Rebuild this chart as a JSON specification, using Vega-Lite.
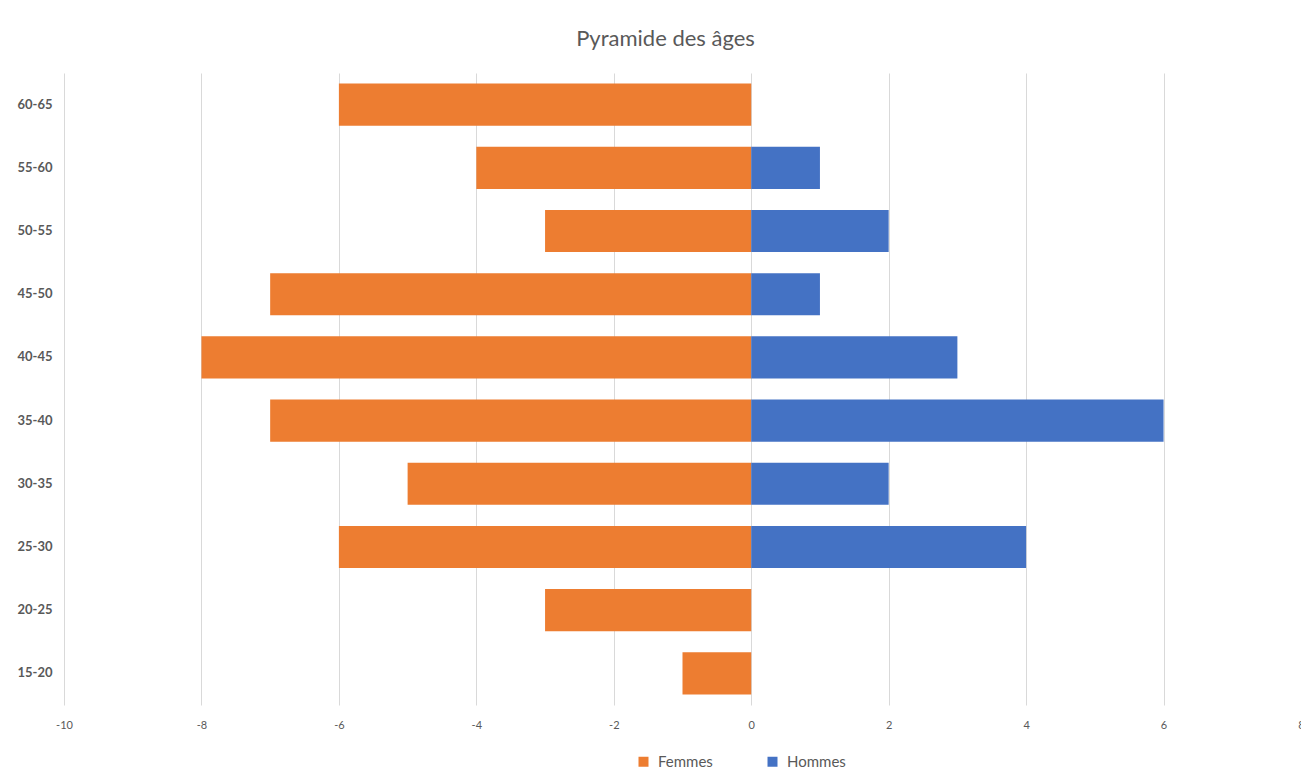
{
  "$schema": "https://vega.github.io/schema/vega-lite/v6.json",
  "width": 1237,
  "height": 632,
  "autosize": {"type": "none"},
  "padding": {"left": 64, "top": 73, "right": 0, "bottom": 74},
  "background": "white",
  "title": {
    "text": "Pyramide des âges",
    "fontSize": 22,
    "font": "Lato",
    "fontWeight": "normal",
    "color": "#595959",
    "anchor": "middle",
    "dx": -17,
    "offset": 22
  },
  "data": {
    "values": [
      {"age": "60-65", "sexe": "Femmes", "valeur": -6},
      {"age": "55-60", "sexe": "Femmes", "valeur": -4},
      {"age": "50-55", "sexe": "Femmes", "valeur": -3},
      {"age": "45-50", "sexe": "Femmes", "valeur": -7},
      {"age": "40-45", "sexe": "Femmes", "valeur": -8},
      {"age": "35-40", "sexe": "Femmes", "valeur": -7},
      {"age": "30-35", "sexe": "Femmes", "valeur": -5},
      {"age": "25-30", "sexe": "Femmes", "valeur": -6},
      {"age": "20-25", "sexe": "Femmes", "valeur": -3},
      {"age": "15-20", "sexe": "Femmes", "valeur": -1},
      {"age": "55-60", "sexe": "Hommes", "valeur": 1},
      {"age": "50-55", "sexe": "Hommes", "valeur": 2},
      {"age": "45-50", "sexe": "Hommes", "valeur": 1},
      {"age": "40-45", "sexe": "Hommes", "valeur": 3},
      {"age": "35-40", "sexe": "Hommes", "valeur": 6},
      {"age": "30-35", "sexe": "Hommes", "valeur": 2},
      {"age": "25-30", "sexe": "Hommes", "valeur": 4}
    ]
  },
  "mark": {"type": "bar"},
  "encoding": {
    "y": {
      "field": "age",
      "type": "nominal",
      "sort": ["60-65", "55-60", "50-55", "45-50", "40-45", "35-40", "30-35", "25-30", "20-25", "15-20"],
      "scale": {"paddingInner": 0.333, "paddingOuter": 0.1667},
      "axis": {
        "title": null,
        "domain": false,
        "ticks": false,
        "labelFont": "Lato",
        "labelFontSize": 13,
        "labelFontWeight": "bold",
        "labelColor": "#595959",
        "labelPadding": 12
      }
    },
    "x": {
      "field": "valeur",
      "type": "quantitative",
      "stack": null,
      "scale": {"domain": [-10, 8], "nice": false},
      "axis": {
        "title": null,
        "values": [-10, -8, -6, -4, -2, 0, 2, 4, 6, 8],
        "labelExpr": "datum.value + ''",
        "domain": false,
        "ticks": false,
        "grid": true,
        "gridColor": "#D9D9D9",
        "gridWidth": 1,
        "labelFont": "Lato",
        "labelFontSize": 11,
        "labelColor": "#595959",
        "labelPadding": 14,
        "labelFlush": false
      }
    },
    "color": {
      "field": "sexe",
      "type": "nominal",
      "scale": {"domain": ["Femmes", "Hommes"], "range": ["#ED7D31", "#4472C4"]},
      "legend": {
        "title": null,
        "orient": "none",
        "direction": "horizontal",
        "legendX": 572,
        "legendY": 681,
        "symbolType": "square",
        "symbolSize": 100,
        "symbolStrokeWidth": 0,
        "labelFont": "Lato",
        "labelFontSize": 15,
        "labelColor": "#595959",
        "labelOffset": 7,
        "columnPadding": 52
      }
    }
  },
  "config": {"view": {"stroke": null}}
}
